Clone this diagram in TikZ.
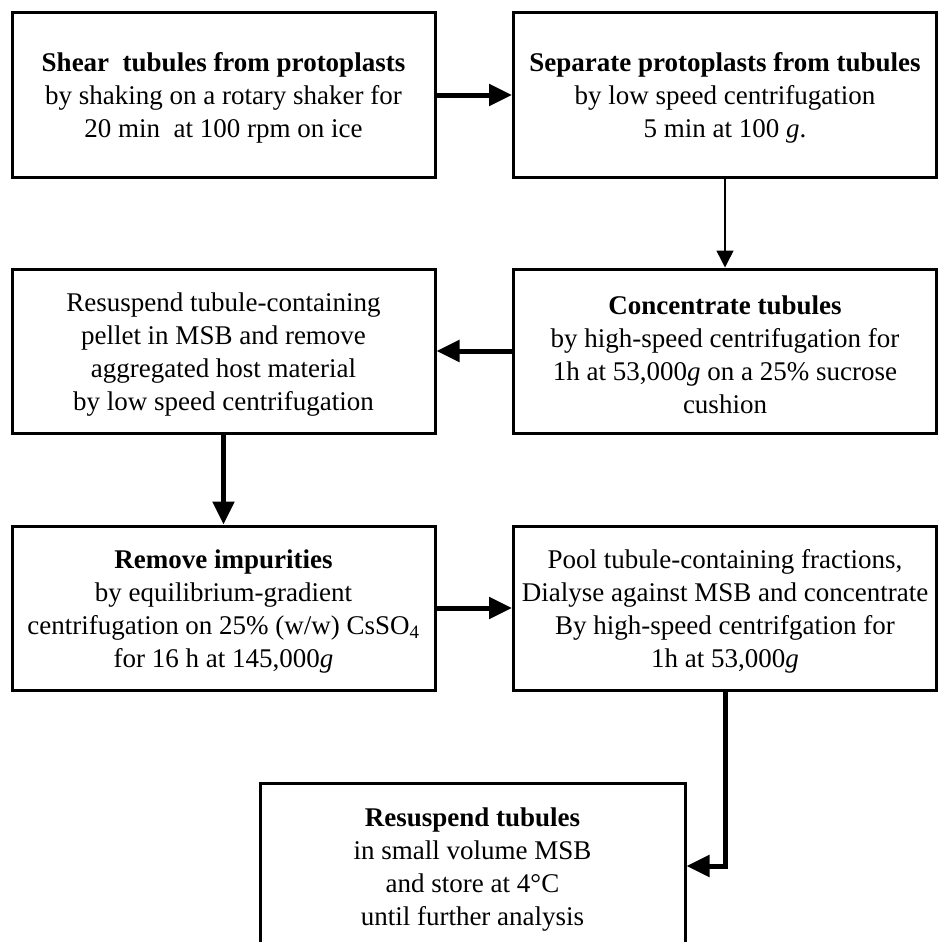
\documentclass[tikz,border=0pt]{standalone}
\usepackage{fontspec}
\setmainfont{Liberation Serif}
\usetikzlibrary{arrows.meta}
\newcommand{\topstrut}{\rule{0pt}{25.5pt}}
\begin{document}
\begin{tikzpicture}[x=1pt,y=-1pt,
  box/.style={draw, line width=3pt, rectangle, minimum width=423pt, minimum height=164pt,
    align=center, inner sep=2pt, font=\fontsize{27}{33}\selectfont},
  thickarrow/.style={line width=5pt, -{Triangle[length=23pt,width=21pt]}},
  thinarrow/.style={line width=1.5pt, -{Triangle[length=17pt,width=17pt]}}]
\clip (0,0) rectangle (938,942);
\node[box] (b1) at (223.5,95) {\topstrut\textbf{Shear\ \ tubules from protoplasts}\\by shaking on a rotary shaker for\\20 min\ \ at 100 rpm on ice};
\node[box] (b2) at (725,95) {\topstrut\textbf{Separate protoplasts from tubules}\\by low speed centrifugation\\5 min at 100 \textit{g}.};
\node[box] (b3) at (223.5,351) {\topstrut Resuspend tubule-containing\\pellet in MSB and remove\\aggregated host material\\by low speed centrifugation};
\node[box] (b4) at (725,351) {\topstrut\textbf{Concentrate tubules}\\by high-speed centrifugation for\\1h at 53,000\textit{g} on a 25\% sucrose\\cushion};
\node[box] (b5) at (223.5,608) {\topstrut\textbf{Remove impurities}\\by equilibrium-gradient\\centrifugation on 25\% (w/w) CsSO\textsubscript{4}\\for 16 h at 145,000\textit{g}};
\node[box] (b6) at (725,608) {\topstrut Pool tubule-containing fractions,\\Dialyse against MSB and concentrate\\By high-speed centrifgation for\\1h at 53,000\textit{g}};
\node[box, minimum width=425pt, minimum height=166pt] (b7) at (472.5,866) {\topstrut\textbf{Resuspend tubules}\\in small volume MSB\\and store at 4°C\\until further analysis};
\draw[thickarrow] (b1.east) -- (b2.west);
\draw[thinarrow] (b2.south) -- (b4.north);
\draw[thickarrow] (b4.west) -- (b3.east);
\draw[thickarrow] (b3.south) -- (b5.north);
\draw[thickarrow] (b5.east) -- (b6.west);
\draw[thickarrow] (b6.south) |- (b7.east);
\end{tikzpicture}
\end{document}
